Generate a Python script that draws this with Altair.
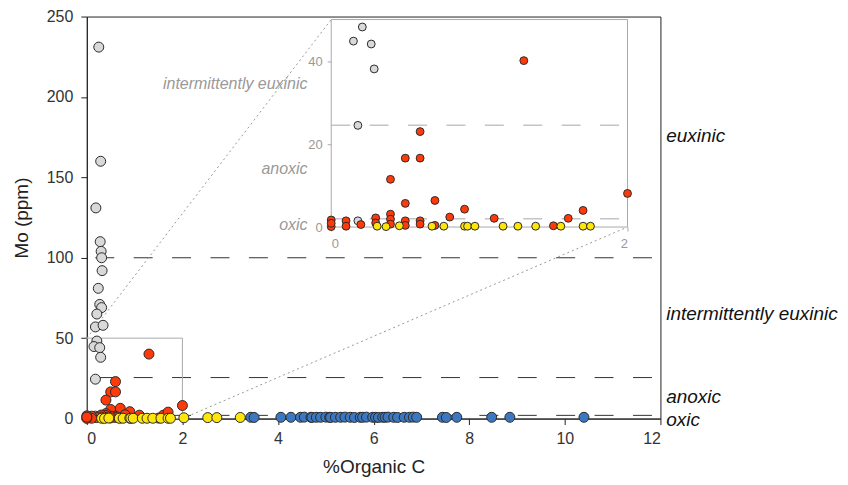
import altair as alt
import pandas as pd

# ---------------- data ----------------
gray_x = [0.25, 0.29, 0.19, 0.28, 0.30, 0.31, 0.32, 0.24, 0.27, 0.31, 0.21, 0.18, 0.34,
          0.21, 0.15, 0.27, 0.29, 0.18, 0.18]
gray_y = [231, 160, 131, 110, 104, 100, 92, 81, 71, 69, 65, 57, 58,
          48.2, 44.8, 44.1, 38.1, 24.5, 1.5]

red_x = [1.30, 0.60, 0.50, 0.60, 0.40, 0.50, 0.70, 0.90, 0.80, 1.10, 1.60, 1.70, 2.00,
         1.50, 0.70, 0.60, 0.60, 0.50, 0.50, 0.40, 0.40, 0.40, 0.30, 0.30, 0.20,
         0.10, 0.10, 0.00, 0.00, 0.00]
red_y = [40.1, 23.0, 16.6, 16.6, 11.5, 5.7, 6.4, 4.3, 2.4, 2.1, 2.1, 4.0, 8.1,
         0.3, 0.4, 1.5, 0.7, 1.5, 0.4, 3.1, 1.9, 0.7, 2.2, 1.0, 0.6,
         1.5, 0.2, 1.7, 0.1, 0.9]

yellow_x = [0.31, 0.37, 0.46, 0.68, 0.76, 0.90, 0.92, 0.97, 1.16, 1.26, 1.38, 1.55,
            1.70, 1.75, 2.03, 2.53, 2.72, 3.21]
yellow_y = [0.2, 0.1, 0.3, 0.2, 0.2, 0.2, 0.2, 0.2, 0.2, 0.2, 0.2, 0.2,
            0.2, 0.2, 0.5, 0.6, 0.6, 0.7]

blue_x = [3.43, 3.50, 4.06, 4.27, 4.47, 4.55, 4.69, 4.71, 4.80, 4.89, 5.00, 5.08, 5.10,
          5.20, 5.31, 5.40, 5.51, 5.60, 5.72, 5.77, 5.85, 5.98, 6.04, 6.10, 6.19, 6.24,
          6.30, 6.42, 6.50, 6.64, 6.75, 6.83, 6.90, 7.44, 7.52, 7.74, 8.47, 8.85, 10.40]
blue_y = [0.8, 0.7, 0.8, 0.8, 0.8, 0.9, 0.8, 0.7, 0.8, 0.8, 0.9, 0.8, 0.7,
          0.8, 0.8, 0.9, 0.8, 0.7, 0.8, 0.8, 0.9, 0.8, 0.8, 0.7, 0.8, 0.8,
          0.9, 0.8, 0.7, 0.8, 0.8, 0.9, 0.8, 0.8, 0.7, 0.8, 0.8, 0.8, 0.8]

groups = ["gray", "red", "yellow", "blue"]
group_colors = ["#d9d9d9", "#ff3a0a", "#ffe60a", "#3b78c1"]

thresholds = [100, 25.5, 2]
inset_thresholds = [24.5, 2]
region_labels = ["euxinic", "intermittently euxinic", "anoxic", "oxic"]
region_label_y = [176, 65, 13.6, -0.6]
inset_region_labels = ["intermittently euxinic", "anoxic", "oxic"]
inset_region_label_y = [34.4, 14.1, 0.4]

x_ticks = [0, 2, 4, 6, 8, 10, 12]
y_ticks = [0, 50, 100, 150, 200, 250]
inset_x_ticks = [0, 1, 2]
inset_y_ticks = [0, 20, 40]

# ---------------- layout constants ----------------
W, H = 575, 403
X_DOMAIN = [0, 12]
Y_DOMAIN = [0, 250]
ZOOM_X = [0, 2]
ZOOM_Y = [0, 50]
INSET_XR = [245, 542]   # inset pixel range inside the plot
INSET_YR = [211, 3]
FONT = "Liberation Sans"

rows = []
for g, xs, ys in [("gray", gray_x, gray_y), ("red", red_x, red_y),
                  ("yellow", yellow_x, yellow_y), ("blue", blue_x, blue_y)]:
    for xv, yv in zip(xs, ys):
        rows.append({"x": xv, "y": yv, "g": g})
pts = pd.DataFrame(rows)

color = alt.Color("g:N", scale=alt.Scale(domain=groups, range=group_colors), legend=None)

mx = alt.X("x:Q", scale=alt.Scale(domain=X_DOMAIN, nice=False, zero=False),
           axis=alt.Axis(values=x_ticks, title="%Organic C", grid=False, tickSize=6,
                         labelPadding=6, titlePadding=11, labelFontSize=16, titleFontSize=19,
                         titleFontWeight="normal", domainColor="#222", tickColor="#222",
                         labelColor="#333", titleColor="#222"))
my = alt.Y("y:Q", scale=alt.Scale(domain=Y_DOMAIN, nice=False, zero=False),
           axis=alt.Axis(values=y_ticks, title="Mo (ppm)", grid=False, tickSize=6,
                         labelPadding=8, titlePadding=15, labelFontSize=16, titleFontSize=19,
                         titleFontWeight="normal", domainColor="#222", tickColor="#222",
                         labelColor="#333", titleColor="#222"))

rules_df = pd.DataFrame({"x": [X_DOMAIN[0]] * len(thresholds),
                         "x2": [X_DOMAIN[1]] * len(thresholds), "y": thresholds})
main_rules = alt.Chart(rules_df).mark_rule(color="#333", strokeWidth=1, strokeDash=[19, 19.5],
                                           strokeDashOffset=30).encode(x=mx, x2="x2:Q", y=my)

box_df = pd.DataFrame({"x": [ZOOM_X[0]], "x2": [ZOOM_X[1]], "y": [ZOOM_Y[0]], "y2": [ZOOM_Y[1]]})
main_box = alt.Chart(box_df).mark_rect(fill=None, fillOpacity=0, stroke="#aaa",
                                       strokeWidth=1).encode(x=mx, x2="x2:Q", y=my, y2="y2:Q")

# connector lines from zoom box corners to inset corners (in main data units)
tl_x = INSET_XR[0] / W * X_DOMAIN[1]
tl_y = (H - INSET_YR[1]) / H * Y_DOMAIN[1]
br_x = INSET_XR[1] / W * X_DOMAIN[1]
br_y = (H - INSET_YR[0]) / H * Y_DOMAIN[1]
conn_df = pd.DataFrame({"x": [ZOOM_X[0], ZOOM_X[1]], "y": [ZOOM_Y[1], ZOOM_Y[0]],
                        "x2": [tl_x, br_x], "y2": [tl_y, br_y]})
connectors = alt.Chart(conn_df).mark_rule(color="#999", strokeWidth=1, strokeDash=[2, 3]).encode(
    x=mx, y=my, x2="x2:Q", y2="y2:Q")

main_pts = alt.Chart(pts).mark_circle(size=100, opacity=1, stroke="#2a2a2a", strokeWidth=1).encode(
    x=mx, y=my, color=color)

lab_df = pd.DataFrame({"x": [12.12] * len(region_labels), "y": region_label_y, "t": region_labels})
main_labels = alt.Chart(lab_df).mark_text(align="left", baseline="middle", fontSize=19,
                                          fontStyle="italic", color="#111", font=FONT).encode(
    x=mx, y=my, text="t:N")

main = alt.layer(main_rules, main_box, connectors, main_pts, main_labels)

# ---------------- inset ----------------
ix = alt.X("x:Q", scale=alt.Scale(domain=ZOOM_X, range=INSET_XR, nice=False, zero=False),
           axis=alt.Axis(values=inset_x_ticks, format="d", title=None, orient="bottom",
                         offset=-(H - INSET_YR[0]), domain=False, grid=False, tickSize=4,
                         tickColor="#aaa", labelColor="#999", labelFontSize=13, labelPadding=7))
iy = alt.Y("y:Q", scale=alt.Scale(domain=ZOOM_Y, range=INSET_YR, nice=False, zero=False),
           axis=alt.Axis(values=inset_y_ticks, format="d", title=None, orient="left",
                         offset=-INSET_XR[0], domain=False, grid=False, tickSize=4,
                         tickColor="#aaa", labelColor="#999", labelFontSize=13, labelPadding=5))

irules_df = pd.DataFrame({"x": [ZOOM_X[0]] * len(inset_thresholds),
                          "x2": [ZOOM_X[1]] * len(inset_thresholds), "y": inset_thresholds})
inset_rules = alt.Chart(irules_df).mark_rule(color="#c4c4c4", strokeWidth=1.5,
                                             strokeDash=[19, 19.5]).encode(x=ix, x2="x2:Q", y=iy)

inset_frame = alt.Chart(box_df).mark_rect(fill=None, fillOpacity=0, stroke="#aaa",
                                          strokeWidth=1).encode(x=ix, x2="x2:Q", y=iy, y2="y2:Q")

inset_pts = alt.Chart(pts).transform_filter(
    (alt.datum.x <= 2.01) & (alt.datum.y <= 50)
).mark_circle(size=62, opacity=1, stroke="#2a2a2a", strokeWidth=1).encode(x=ix, y=iy, color=color)

ilab_df = pd.DataFrame({"x": [-0.16] * len(inset_region_labels), "y": inset_region_label_y,
                        "t": inset_region_labels})
inset_labels = alt.Chart(ilab_df).mark_text(align="right", baseline="middle", fontSize=16,
                                            fontStyle="italic", color="#999", font=FONT).encode(
    x=ix, y=iy, text="t:N")

inset = alt.layer(inset_rules, inset_frame, inset_pts, inset_labels)

chart = alt.layer(main, inset).resolve_scale(
    x="independent", y="independent", color="shared"
).properties(
    width=W, height=H,
    autosize=alt.AutoSizeParams(type="none"),
    padding={"left": 79, "top": 8, "right": 180, "bottom": 58},
).configure(font=FONT).configure_view(stroke="#222", strokeWidth=1)

chart.save("out.html", embed_options={"renderer": "svg", "actions": False})
